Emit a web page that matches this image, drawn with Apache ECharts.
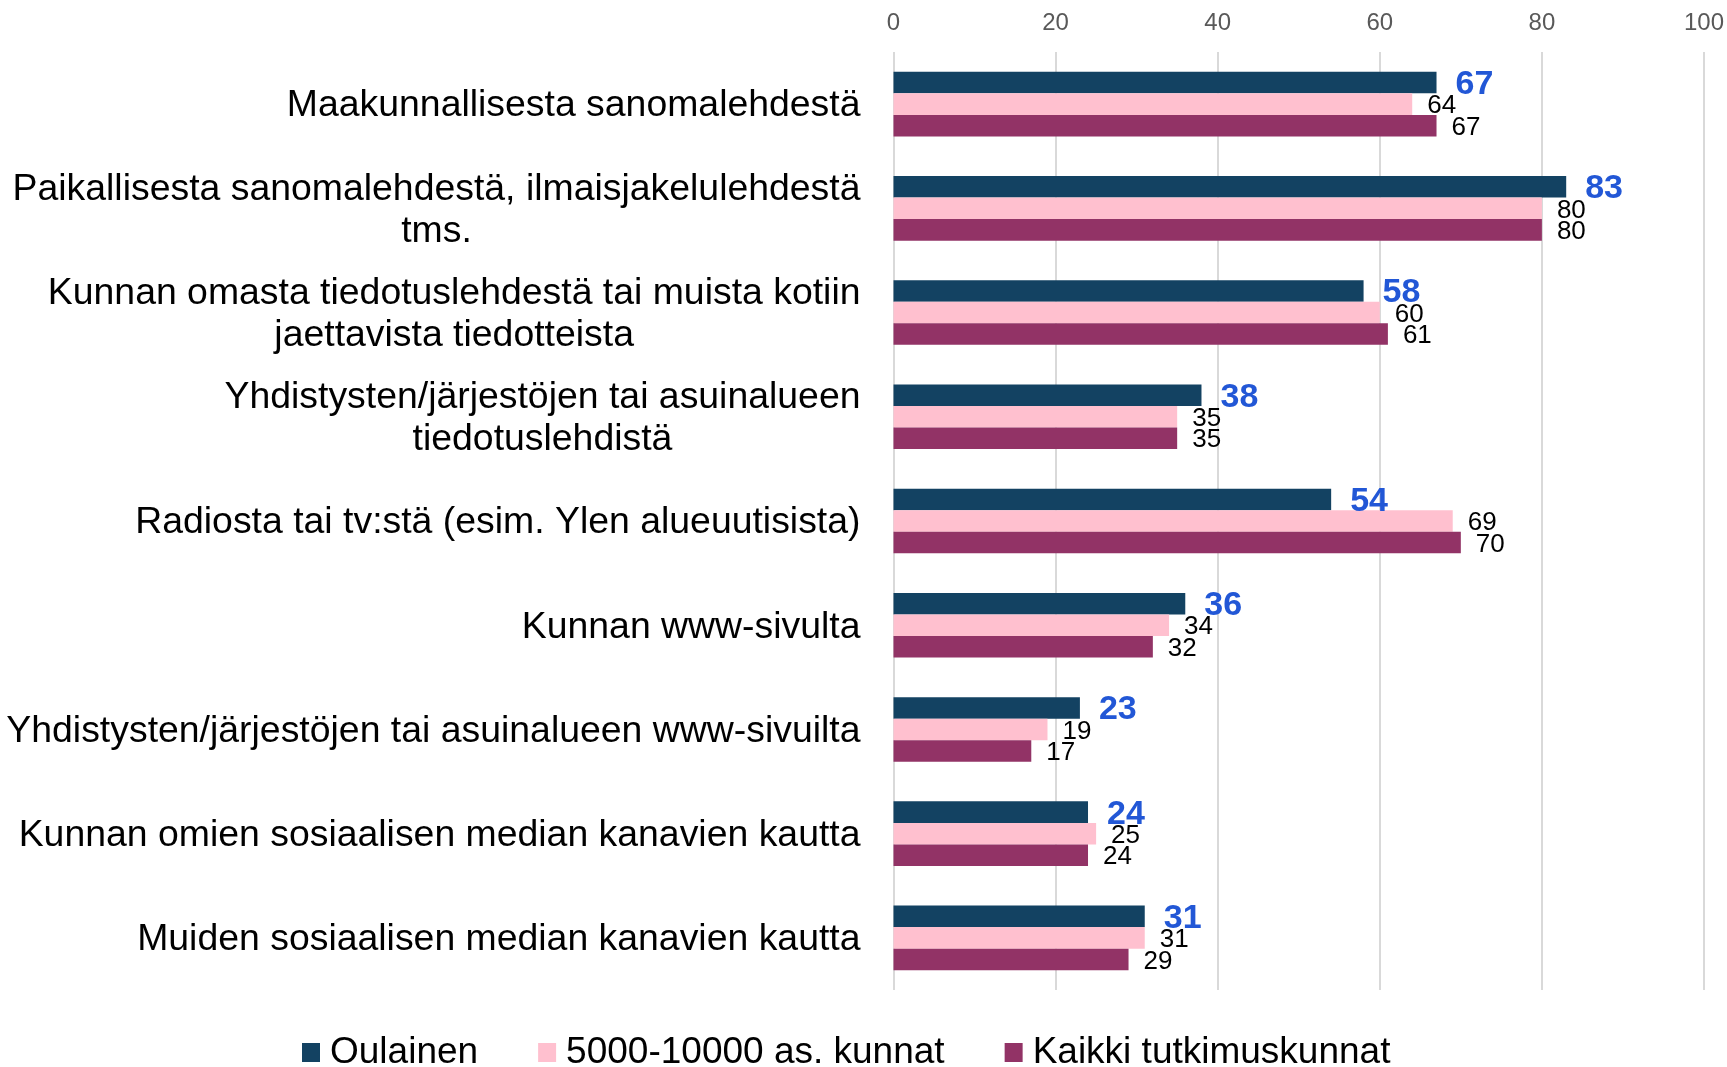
<!DOCTYPE html>
<html>
<head>
<meta charset="utf-8">
<script src="https://cdn.jsdelivr.net/npm/echarts@6/dist/echarts.min.js"></script>
<style>
html,body{margin:0;padding:0;background:#fff;}
#chart{width:1727px;height:1067px;}
</style>
</head>
<body>
<div id="chart"></div>
<script>
const categories = [
  "Maakunnallisesta sanomalehdestä",
  "Paikallisesta sanomalehdestä, ilmaisjakelulehdestä\ntms.",
  "Kunnan omasta tiedotuslehdestä tai muista kotiin\njaettavista tiedotteista",
  "Yhdistysten/järjestöjen tai asuinalueen\ntiedotuslehdistä",
  "Radiosta tai tv:stä (esim. Ylen alueuutisista)",
  "Kunnan www-sivulta",
  "Yhdistysten/järjestöjen tai asuinalueen www-sivuilta",
  "Kunnan omien sosiaalisen median kanavien kautta",
  "Muiden sosiaalisen median kanavien kautta"
];
const seriesNames = ["Oulainen", "5000-10000 as. kunnat", "Kaikki tutkimuskunnat"];
const oulainen = [67, 83, 58, 38, 54, 36, 23, 24, 31];
const kunnat5000 = [64, 80, 60, 35, 69, 34, 19, 25, 31];
const kaikki = [67, 80, 61, 35, 70, 32, 17, 24, 29];
const xTicks = [0, 20, 40, 60, 80, 100];

const FONT = "'Liberation Sans', Arial, sans-serif";
const colors = ['#134262', '#ffc0cf', '#923366'];

const chart = echarts.init(document.getElementById('chart'), null, {renderer: 'canvas'});
chart.setOption({
  animation: false,
  backgroundColor: '#ffffff',
  grid: {left: 893.5, right: 23, top: 52, bottom: 77, containLabel: false},
  legend: {
    data: seriesNames,
    left: 302,
    top: 1034,
    padding: 0,
    icon: 'rect',
    itemWidth: 18,
    itemHeight: 19,
    itemGap: 60,
    textStyle: {fontFamily: FONT, fontSize: 37, color: '#000', padding: [0,0,0,5]}
  },
  xAxis: {
    type: 'value',
    position: 'top',
    min: xTicks[0],
    max: xTicks[xTicks.length - 1],
    interval: 20,
    axisLine: {show: false},
    axisTick: {show: false},
    axisLabel: {fontFamily: FONT, fontSize: 24, color: '#595959', margin: 17},
    splitLine: {show: true, lineStyle: {color: '#d9d9d9', width: 2}}
  },
  yAxis: {
    type: 'category',
    inverse: true,
    data: categories,
    axisLine: {show: false},
    axisTick: {show: false},
    axisLabel: {
      margin: 33,
      padding: [4, 0, 0, 0],
      formatter: function (v) {
        return v.split('\n').map(function (s) { return '{c|' + s + '}'; }).join('\n');
      },
      rich: {
        c: {fontFamily: FONT, fontSize: 37.4, color: '#000', align: 'center', lineHeight: 42}
      }
    }
  },
  series: [
    {
      name: seriesNames[0], type: 'bar', data: oulainen,
      barGap: '0%', barCategoryGap: '38%',
      itemStyle: {color: colors[0]},
      label: {show: true, position: 'right', distance: 19, fontFamily: FONT, fontSize: 34, fontWeight: 'bold', color: '#2257d6', offset: [0, 2]}
    },
    {
      name: seriesNames[1], type: 'bar', data: kunnat5000,
      barGap: '0%', barCategoryGap: '38%',
      itemStyle: {color: colors[1]},
      label: {show: true, position: 'right', distance: 15, fontFamily: FONT, fontSize: 26, color: '#000', offset: [0, 2]}
    },
    {
      name: seriesNames[2], type: 'bar', data: kaikki,
      barGap: '0%', barCategoryGap: '38%',
      itemStyle: {color: colors[2]},
      label: {show: true, position: 'right', distance: 15, fontFamily: FONT, fontSize: 26, color: '#000', offset: [0, 2]}
    }
  ]
});
</script>
</body>
</html>
